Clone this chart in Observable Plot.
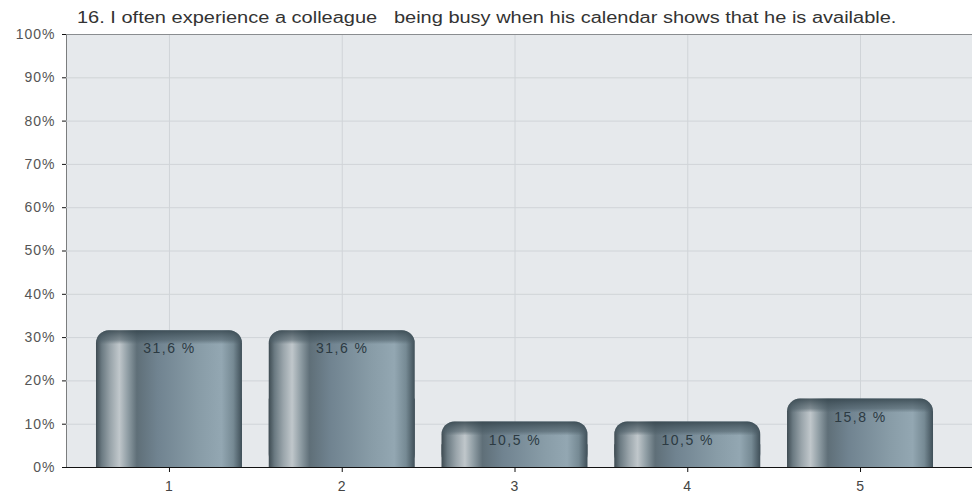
<!DOCTYPE html>
<html>
<head>
<meta charset="utf-8">
<script src="https://cdn.jsdelivr.net/npm/d3@7"></script>
<script src="https://cdn.jsdelivr.net/npm/@observablehq/plot@0.6"></script>
<style>
  body { margin: 0; background: #fff; font-family: "Liberation Sans", Arial, sans-serif; }
  #title { position: relative; height: 26px; }
  #title span {
    position: absolute; left: 77px; top: 10px; font-size: 16px; line-height: 16px;
    white-space: pre; color: #333; transform: scaleX(1.25); transform-origin: 0 0;
  }
  #chart svg g[aria-label="y-axis tick label"] { fill: #555; letter-spacing: 1px; }
  #chart svg g[aria-label="x-axis tick label"] { fill: #444; letter-spacing: 1px; }
  #chart svg g[aria-label="text"] { letter-spacing: 1.5px; }
</style>
</head>
<body>
<div id="title"><span>16. I often experience a colleague   being busy when his calendar shows that he is available.</span></div>
<div id="chart"></div>
<script>
const categories = ["1", "2", "3", "4", "5"];
const values = [31.6, 31.6, 10.5, 10.5, 15.8];
const yTicks = [0, 10, 20, 30, 40, 50, 60, 70, 80, 90, 100];

const data = categories.map((c, i) => ({cat: c, value: values[i]}));
const fmt = v => v.toFixed(1).replace(".", ",") + " %";

const defs = () => {
  const svgNS = "http://www.w3.org/2000/svg";
  const d = document.createElementNS(svgNS, "defs");
  d.innerHTML = `
    <linearGradient id="barBody" x1="0" y1="0" x2="1" y2="0">
      <stop offset="0" stop-color="#3e4b52"/>
      <stop offset="0.04" stop-color="#6b7a82"/>
      <stop offset="0.10" stop-color="#9aa5ab"/>
      <stop offset="0.16" stop-color="#c0c7cb"/>
      <stop offset="0.22" stop-color="#8e9ca3"/>
      <stop offset="0.28" stop-color="#5f6f78"/>
      <stop offset="0.42" stop-color="#708390"/>
      <stop offset="0.70" stop-color="#889ca7"/>
      <stop offset="0.86" stop-color="#93a7b2"/>
      <stop offset="0.94" stop-color="#768a94"/>
      <stop offset="1" stop-color="#3f4f58"/>
    </linearGradient>
    <linearGradient id="capBase" x1="0" y1="0" x2="0" y2="1">
      <stop offset="0" stop-color="#3e4d55" stop-opacity="0"/>
      <stop offset="1" stop-color="#3e4d55" stop-opacity="0"/>
    </linearGradient>`;
  return d;
};

const chart = Plot.plot({
  width: 972,
  height: 469,
  marginTop: 8,
  marginBottom: 28,
  marginLeft: 66,
  marginRight: 0,
  style: {fontFamily: "Liberation Sans, Arial, sans-serif", fontSize: "14px", color: "#111", background: "transparent"},
  x: {type: "band", domain: categories, range: [82.6, 946.4], paddingInner: 0.155, paddingOuter: 0.0775, round: false,
      tickSize: 5, tickPadding: 9, label: null},
  y: {domain: [0, 100], ticks: yTicks, tickFormat: d => d + "%", tickSize: 4, tickPadding: 7, label: null, line: true},
  marks: [
    defs,
    Plot.frame({fill: "#e6e9ec", stroke: "none"}),
    Plot.ruleY(yTicks, {stroke: "#d0d4d8"}),
    Plot.gridX({stroke: "#d0d4d8", strokeOpacity: 1}),
    Plot.ruleY([d3.max(yTicks)], {stroke: "#8a8d90"}),
    Plot.barY(data, {x: "cat", y: d => d.value / 2, fill: "url(#barBody)"}),
    Plot.barY(data, {x: "cat", y: "value", fill: "url(#barBody)", rx: 13}),
    Plot.barY(data, {x: "cat", y: "value", fill: "url(#capBase)", rx: 13}),
    Plot.text(data, {x: "cat", y: "value", text: d => fmt(d.value), dy: 18, fill: "#2c3a42", fontSize: 14}),
    Plot.ruleY([0], {stroke: "#111"})
  ]
});

document.getElementById("chart").appendChild(chart);

// per-bar top cap shading (style only)
const svg = d3.select(chart.tagName.toLowerCase() === "svg" ? chart : chart.querySelector("svg"));
const defsSel = svg.select("defs");
svg.selectAll('g[fill="url(#capBase)"] rect').each(function(_, i) {
  const r = d3.select(this);
  const y = +r.attr("y");
  const id = "cap" + i;
  const g = defsSel.append("linearGradient").attr("id", id)
    .attr("gradientUnits", "userSpaceOnUse")
    .attr("x1", 0).attr("x2", 0).attr("y1", y).attr("y2", y + 14);
  g.append("stop").attr("offset", 0).attr("stop-color", "#34444c").attr("stop-opacity", 0.85);
  g.append("stop").attr("offset", 0.7).attr("stop-color", "#4a5b64").attr("stop-opacity", 0.55);
  g.append("stop").attr("offset", 1).attr("stop-color", "#4a5b64").attr("stop-opacity", 0);
  r.attr("fill", `url(#${id})`);
});
</script>
</body>
</html>
